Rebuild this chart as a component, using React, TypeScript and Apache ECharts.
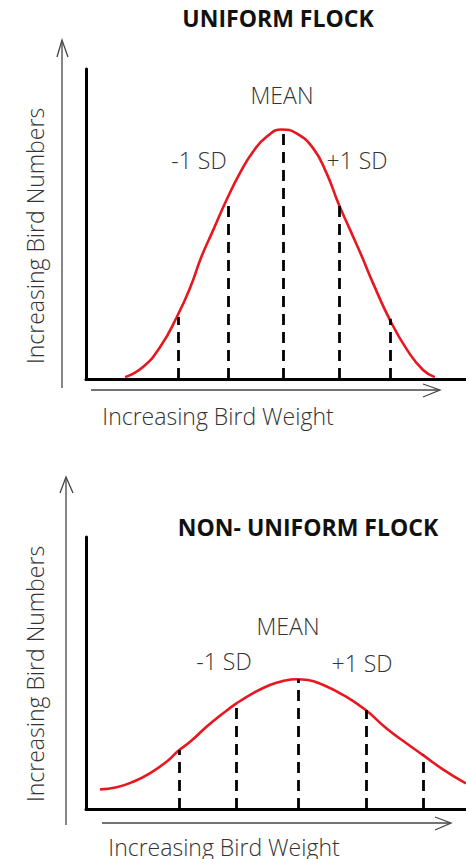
import React, { useEffect, useRef } from "react";
import * as echarts from "echarts";

// Top chart (uniform flock) – weight units 0..100, bird-number units 0..100
const uniformWeight = [10.3, 15.0, 19.5, 23.9, 27.4, 30.4, 33.5, 37.0, 40.5, 44.0, 47.6, 51.5, 55.4, 59.8, 63.3, 66.4, 69.5, 72.6, 75.5, 80.0, 84.5, 88.7, 91.8];
const uniformCount = [0.6, 3.9, 10.3, 20.0, 29.4, 39.5, 48.1, 57.8, 66.4, 73.4, 78.2, 80.5, 79.2, 74.4, 66.4, 56.7, 48.1, 39.5, 31.0, 19.0, 9.4, 2.9, 0.6];
const uniformSdWeight = [24.2, 37.4, 52.0, 66.6, 80.0];
const uniformSdCount = [20.0, 57.7, 80.6, 56.8, 19.4];

// Bottom chart (non-uniform flock)
const nonUniformWeight = [3.7, 8.1, 12.4, 16.8, 21.2, 24.3, 27.4, 31.8, 36.1, 39.7, 44.0, 48.4, 51.9, 55.4, 58.4, 61.6, 67.7, 73.6, 79.1, 84.4, 88.6, 94.0, 100];
const nonUniformCount = [7.2, 8.0, 10.0, 13.1, 17.4, 21.4, 24.7, 30.3, 35.2, 38.9, 42.6, 45.6, 47.1, 47.7, 47.4, 46.1, 41.9, 36.4, 29.6, 24.1, 19.9, 14.5, 9.4];
const nonUniformSdWeight = [24.5, 39.5, 55.8, 73.7, 88.7];
const nonUniformSdCount = [21.7, 38.6, 47.8, 36.4, 19.9];

const titles = ["UNIFORM FLOCK", "NON- UNIFORM FLOCK"];
const sdLabels = ["-1 SD", "MEAN", "+1 SD"];
const xAxisTitle = "Increasing Bird Weight";
const yAxisTitle = "Increasing Bird Numbers";

const RED = "#e8161e";
const TEXT = "#333333";
const FONT = "'Open Sans', 'Noto Sans', sans-serif";

function curveSeries(idx: number, w: number[], c: number[], sdW: number[], sdC: number[]) {
  return {
    type: "line",
    xAxisIndex: idx,
    yAxisIndex: idx,
    data: w.map((v, i) => [v, c[i]]),
    smooth: 0.5,
    symbol: "none",
    lineStyle: { color: RED, width: 2.6 },
    z: 3,
    markLine: {
      silent: true,
      symbol: ["none", "none"],
      label: { show: false },
      lineStyle: { color: "#000", width: 2.8, type: [11, 7] },
      data: sdW.map((v, i) => [{ coord: [v, 0] }, { coord: [v, sdC[i]] }]),
    },
  };
}

function axisOf(idx: number) {
  return {
    gridIndex: idx,
    type: "value",
    min: 0,
    max: 100,
    axisLine: { show: true, onZero: false, lineStyle: { color: "#000", width: 3 } },
    axisTick: { show: false },
    axisLabel: { show: false },
    splitLine: { show: false },
  };
}

function txt(text: string, x: number, y: number, size: number, weight: any, extra: any = {}) {
  return {
    type: "text",
    x,
    y,
    ...extra,
    style: {
      text,
      x: 0,
      y: 0,
      fill: weight === "bold" ? "#111" : TEXT,
      font: `${weight} ${size}px ${FONT}`,
      textAlign: "center",
      textVerticalAlign: "middle",
    },
  };
}

function arrowLine(x1: number, y1: number, x2: number, y2: number) {
  return { type: "line", shape: { x1, y1, x2, y2 }, style: { stroke: "#444", lineWidth: 1.3 } };
}
function chevron(points: number[][]) {
  return { type: "polyline", shape: { points }, style: { stroke: "#444", lineWidth: 1.3, fill: "none" } };
}

export default function App() {
  const ref = useRef<HTMLDivElement>(null);
  useEffect(() => {
    if (!ref.current) return;
    const chart = echarts.init(ref.current, undefined, { renderer: "svg" });
    chart.setOption({
      animation: false,
      backgroundColor: "#ffffff",
      grid: [
        { left: 86, top: 69, width: 380, height: 310 },
        { left: 86, top: 537, width: 380, height: 272 },
      ],
      xAxis: [axisOf(0), axisOf(1)],
      yAxis: [axisOf(0), axisOf(1)],
      series: [
        curveSeries(0, uniformWeight, uniformCount, uniformSdWeight, uniformSdCount),
        curveSeries(1, nonUniformWeight, nonUniformCount, nonUniformSdWeight, nonUniformSdCount),
      ],
      graphic: [
        // top chart texts
        txt(titles[0], 278, 18, 23, "bold"),
        txt(sdLabels[1], 282, 95, 23, 300),
        txt(sdLabels[0], 199, 160, 23, 300),
        txt(sdLabels[2], 357, 160, 23, 300),
        txt(xAxisTitle, 218, 416, 23, 300),
        txt(yAxisTitle, 0, 0, 23, 300, { x: 35, y: 236, rotation: Math.PI / 2 }),
        // top arrows
        arrowLine(62, 41, 62, 388),
        chevron([[57, 57], [62, 40], [68, 57]]),
        arrowLine(91, 390, 439, 390),
        chevron([[423, 384], [440, 390], [423, 397]]),
        // bottom chart texts
        txt(titles[1], 308, 527, 23, "bold"),
        txt(sdLabels[1], 288, 626, 23, 300),
        txt(sdLabels[0], 224, 661, 23, 300),
        txt(sdLabels[2], 362, 663, 23, 300),
        txt(xAxisTitle, 224, 847, 23, 300),
        txt(yAxisTitle, 0, 0, 23, 300, { x: 35, y: 674, rotation: Math.PI / 2 }),
        // bottom arrows
        arrowLine(66, 478, 66, 825),
        chevron([[60, 493], [66, 477], [73, 493]]),
        arrowLine(102, 823, 450, 823),
        chevron([[435, 817], [451, 823], [435, 830]]),
      ],
    });
    return () => chart.dispose();
  }, []);
  return (
    <div
      ref={ref}
      style={{ position: "fixed", left: 0, top: 0, width: 466, height: 859, background: "#fff" }}
    />
  );
}
